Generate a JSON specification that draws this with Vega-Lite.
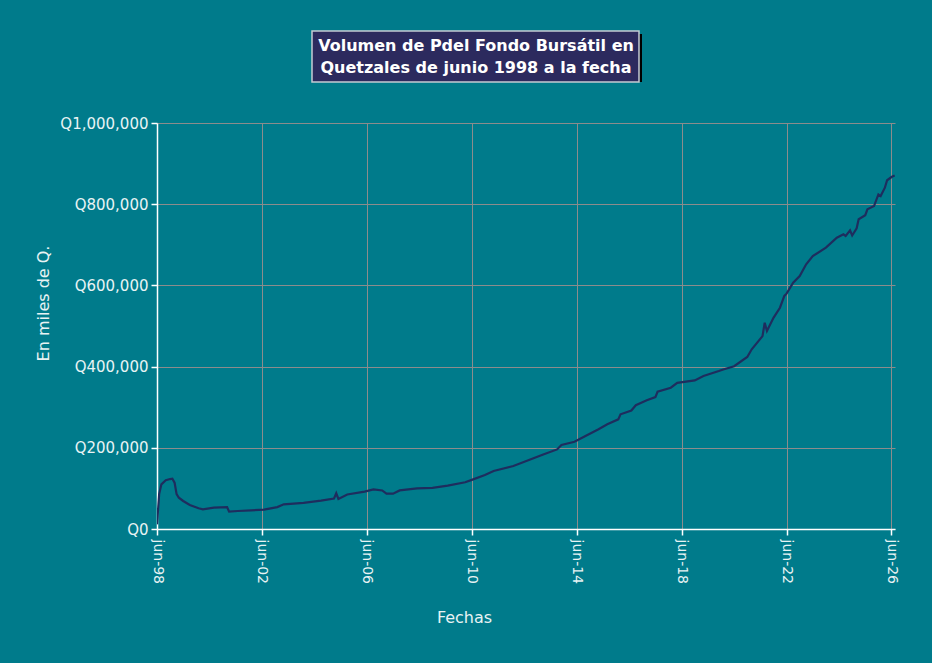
{
  "$schema": "https://vega.github.io/schema/vega-lite/v6.json",
  "description": "Volumen del fondo bursátil en quetzales, junio 1998 a la fecha",
  "background": "#007b8b",
  "padding": {"top": 30, "left": 35, "right": 36, "bottom": 38},
  "spacing": 41,
  "center": true,
  "bounds": "flush",
  "config": {
    "font": "DejaVu Sans",
    "view": {"stroke": null},
    "axis": {
      "labelColor": "#e8f3f4",
      "titleColor": "#e8f3f4",
      "labelFontSize": 15,
      "titleFontSize": 16,
      "titleFontWeight": "normal",
      "domainColor": "#ffffff",
      "domainWidth": 1.5,
      "tickColor": "#ffffff",
      "tickWidth": 1.5,
      "tickSize": 6,
      "gridColor": "#8c8c8c",
      "gridWidth": 1,
      "gridOpacity": 1
    }
  },
  "vconcat": [
    {
      "width": 428,
      "height": 51,
      "data": {"values": [{"titulo": "Volumen de Pdel Fondo Bursátil en\nQuetzales de junio 1998 a la fecha"}]},
      "layer": [
        {"mark": {"type": "rect", "fill": "#000000", "xOffset": -98, "yOffset": 3}, "encoding": {}},
        {"mark": {"type": "rect", "fill": "#2c2a5e", "stroke": "#c5cbd3", "strokeWidth": 1.5, "xOffset": -101}, "encoding": {}},
        {
          "mark": {"type": "text", "color": "#ffffff", "fontWeight": "bold", "fontSize": 16, "lineBreak": "\n", "lineHeight": 22, "align": "center", "baseline": "middle", "xOffset": -50, "dy": -11},
          "encoding": {"text": {"field": "titulo", "type": "nominal"}}
        }
      ]
    },
    {
      "width": 738,
      "height": 406,
      "data": {"values": [
        {"fecha": "1998-06-01", "volumen": 11500},
        {"fecha": "1998-07-01", "volumen": 86000},
        {"fecha": "1998-08-01", "volumen": 110000},
        {"fecha": "1998-10-01", "volumen": 120000},
        {"fecha": "1998-12-01", "volumen": 123000},
        {"fecha": "1999-01-01", "volumen": 124000},
        {"fecha": "1999-02-01", "volumen": 114000},
        {"fecha": "1999-03-01", "volumen": 86000},
        {"fecha": "1999-04-01", "volumen": 77000},
        {"fecha": "1999-06-01", "volumen": 69000},
        {"fecha": "1999-09-01", "volumen": 59000},
        {"fecha": "2000-01-01", "volumen": 51000},
        {"fecha": "2000-03-01", "volumen": 48500},
        {"fecha": "2000-08-01", "volumen": 52500},
        {"fecha": "2001-02-01", "volumen": 54000},
        {"fecha": "2001-03-01", "volumen": 42700},
        {"fecha": "2001-07-01", "volumen": 44300},
        {"fecha": "2002-01-01", "volumen": 46000},
        {"fecha": "2002-07-01", "volumen": 47600},
        {"fecha": "2003-01-01", "volumen": 54000},
        {"fecha": "2003-04-01", "volumen": 60800},
        {"fecha": "2004-01-01", "volumen": 64500},
        {"fecha": "2004-09-01", "volumen": 70000},
        {"fecha": "2005-03-01", "volumen": 75000},
        {"fecha": "2005-04-01", "volumen": 88000},
        {"fecha": "2005-05-01", "volumen": 74000},
        {"fecha": "2005-09-01", "volumen": 85000},
        {"fecha": "2006-05-01", "volumen": 92000},
        {"fecha": "2006-09-01", "volumen": 97700},
        {"fecha": "2007-01-01", "volumen": 95000},
        {"fecha": "2007-03-01", "volumen": 87000},
        {"fecha": "2007-06-01", "volumen": 87000},
        {"fecha": "2007-09-01", "volumen": 95000},
        {"fecha": "2008-05-01", "volumen": 100000},
        {"fecha": "2008-12-01", "volumen": 101500},
        {"fecha": "2009-07-01", "volumen": 107000},
        {"fecha": "2010-03-01", "volumen": 115000},
        {"fecha": "2010-06-01", "volumen": 121000},
        {"fecha": "2010-12-01", "volumen": 133000},
        {"fecha": "2011-04-01", "volumen": 143000},
        {"fecha": "2012-01-01", "volumen": 155000},
        {"fecha": "2012-09-01", "volumen": 171600},
        {"fecha": "2013-03-01", "volumen": 184000},
        {"fecha": "2013-09-01", "volumen": 196000},
        {"fecha": "2013-11-01", "volumen": 207000},
        {"fecha": "2014-05-01", "volumen": 215000},
        {"fecha": "2014-10-01", "volumen": 229000},
        {"fecha": "2015-04-01", "volumen": 245600},
        {"fecha": "2015-08-01", "volumen": 258000},
        {"fecha": "2016-01-01", "volumen": 270000},
        {"fecha": "2016-02-01", "volumen": 282500},
        {"fecha": "2016-07-01", "volumen": 292000},
        {"fecha": "2016-09-01", "volumen": 305000},
        {"fecha": "2017-02-01", "volumen": 317000},
        {"fecha": "2017-06-01", "volumen": 325000},
        {"fecha": "2017-07-01", "volumen": 338000},
        {"fecha": "2018-01-01", "volumen": 348000},
        {"fecha": "2018-04-01", "volumen": 360000},
        {"fecha": "2018-12-01", "volumen": 366000},
        {"fecha": "2019-04-01", "volumen": 377000},
        {"fecha": "2019-11-01", "volumen": 389000},
        {"fecha": "2020-01-01", "volumen": 393000},
        {"fecha": "2020-06-01", "volumen": 401000},
        {"fecha": "2020-12-01", "volumen": 423600},
        {"fecha": "2021-02-01", "volumen": 442600},
        {"fecha": "2021-07-01", "volumen": 475000},
        {"fecha": "2021-08-01", "volumen": 508000},
        {"fecha": "2021-09-01", "volumen": 487700},
        {"fecha": "2021-12-01", "volumen": 520000},
        {"fecha": "2022-03-01", "volumen": 545000},
        {"fecha": "2022-05-01", "volumen": 574000},
        {"fecha": "2022-06-01", "volumen": 579600},
        {"fecha": "2022-09-01", "volumen": 606700},
        {"fecha": "2022-12-01", "volumen": 623000},
        {"fecha": "2023-03-01", "volumen": 652000},
        {"fecha": "2023-06-01", "volumen": 672000},
        {"fecha": "2023-12-01", "volumen": 693000},
        {"fecha": "2024-05-01", "volumen": 717500},
        {"fecha": "2024-08-01", "volumen": 726000},
        {"fecha": "2024-09-01", "volumen": 722000},
        {"fecha": "2024-11-01", "volumen": 735700},
        {"fecha": "2024-12-01", "volumen": 723000},
        {"fecha": "2025-02-01", "volumen": 740600},
        {"fecha": "2025-03-01", "volumen": 762800},
        {"fecha": "2025-06-01", "volumen": 773000},
        {"fecha": "2025-07-01", "volumen": 787400},
        {"fecha": "2025-10-01", "volumen": 795500},
        {"fecha": "2025-12-01", "volumen": 824000},
        {"fecha": "2026-01-01", "volumen": 820000},
        {"fecha": "2026-03-01", "volumen": 840600},
        {"fecha": "2026-04-01", "volumen": 859000},
        {"fecha": "2026-06-01", "volumen": 867000},
        {"fecha": "2026-07-15", "volumen": 871000}
      ]},
      "mark": {"type": "line", "color": "#1e2d5e", "strokeWidth": 2.2, "clip": true},
      "encoding": {
        "x": {
          "field": "fecha",
          "type": "temporal",
          "scale": {
            "type": "utc",
            "domain": [
              {"year": 1998, "month": 6, "date": 1, "utc": true},
              {"year": 2026, "month": 7, "date": 20, "utc": true}
            ]
          },
          "axis": {
            "title": "Fechas",
            "titlePadding": 26,
            "titleX": 307,
            "labelAngle": 90,
            "labelPadding": 4,
            "labelFontSize": 14,
            "grid": true,
            "values": [
              {"year": 1998, "month": 6, "date": 1, "utc": true},
              {"year": 2002, "month": 6, "date": 1, "utc": true},
              {"year": 2006, "month": 6, "date": 1, "utc": true},
              {"year": 2010, "month": 6, "date": 1, "utc": true},
              {"year": 2014, "month": 6, "date": 1, "utc": true},
              {"year": 2018, "month": 6, "date": 1, "utc": true},
              {"year": 2022, "month": 6, "date": 1, "utc": true},
              {"year": 2026, "month": 6, "date": 1, "utc": true}
            ],
            "labelExpr": "'jun-' + utcFormat(datum.value, '%y')"
          }
        },
        "y": {
          "field": "volumen",
          "type": "quantitative",
          "scale": {"domain": [0, 1000000], "nice": false},
          "axis": {
            "title": "En miles de Q.",
            "titlePadding": 8,
            "titleY": 180,
            "labelPadding": 3,
            "values": [0, 200000, 400000, 600000, 800000, 1000000],
            "labelExpr": "'Q' + format(datum.value, ',')"
          }
        }
      }
    }
  ]
}
